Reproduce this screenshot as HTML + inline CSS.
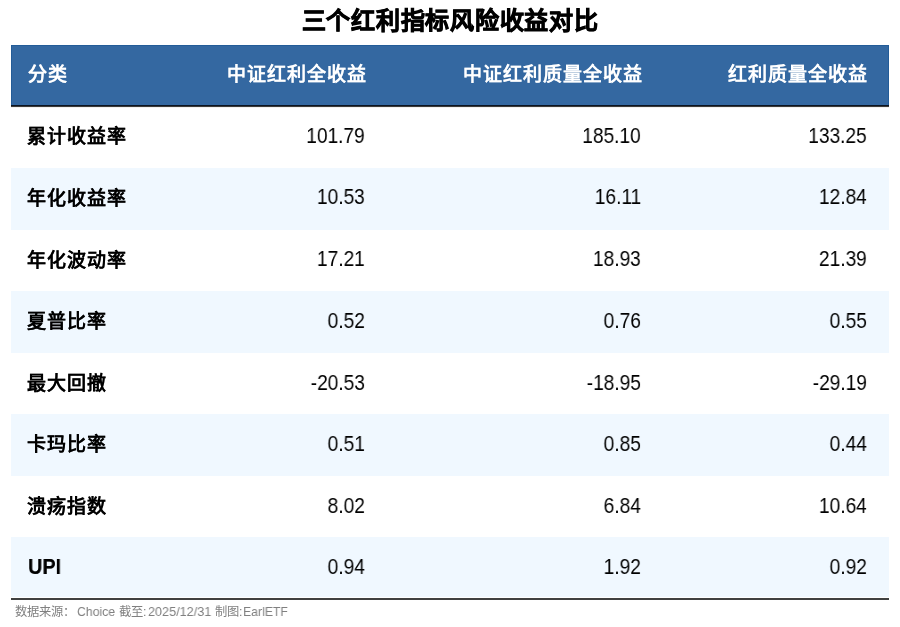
<!DOCTYPE html>
<html lang="zh-CN">
<head>
<meta charset="utf-8">
<style>
html,body{margin:0;padding:0;background:#fff;}
body{width:900px;height:627px;position:relative;overflow:hidden;font-family:"Liberation Sans",sans-serif;color:#000;}
.title,.t,.ft{will-change:transform;}
.title{position:absolute;left:0;width:900px;top:6px;text-align:center;font-size:24px;font-weight:bold;line-height:30px;letter-spacing:0.75px;-webkit-text-stroke:0.8px #000;}
.hd{position:absolute;left:11px;top:45px;width:876px;height:59px;background:#3468a1;border:1px solid #235c98;border-bottom:none;}
.hl{position:absolute;left:11px;top:105px;width:878px;height:3px;background:linear-gradient(#0a1422 0,#0a1422 1px,#3c3a38 1px,#3c3a38 2px,#f2f1f0 2px);}
.band{position:absolute;left:11px;width:878px;background:#f0f8ff;}
.t{position:absolute;white-space:nowrap;line-height:24px;}
.h{color:#fff;font-weight:bold;font-size:19px;letter-spacing:0.95px;text-shadow:0.2px 0 0 rgba(255,255,255,0.5);}
.l{left:26.5px;text-shadow:0.2px 0 0 rgba(0,0,0,0.6);font-weight:bold;font-size:19px;letter-spacing:0.95px;margin-top:0.5px;}
.n{font-size:21.5px;transform:scaleX(0.89);transform-origin:100% 50%;}
.c1{right:535px;}
.c2{right:259px;}
.c3{right:33px;}
.bl{position:absolute;left:11px;top:598px;width:878px;height:2px;background:#404040;}
.ft{position:absolute;top:604px;font-size:12.3px;color:#808080;line-height:16px;white-space:nowrap;}
.fl{font-size:13.6px;transform:scaleX(0.9);transform-origin:0 50%;}
</style>
</head>
<body>
<div class="title">三个红利指标风险收益对比</div>
<div class="hd"></div>
<div class="hl"></div>
<div class="band" style="top:168px;height:62px"></div>
<div class="band" style="top:291px;height:62px"></div>
<div class="band" style="top:414px;height:62px"></div>
<div class="band" style="top:537px;height:60px"></div>
<span class="t h" style="left:27.5px;top:63px">分类</span><span class="t h c1" style="top:63px;right:533px">中证红利全收益</span><span class="t h c2" style="top:63px;right:257px">中证红利质量全收益</span><span class="t h c3" style="top:63px;right:32px">红利质量全收益</span>
<span class="t l" style="top:124px">累计收益率</span><span class="t n c1" style="top:124px">101.79</span><span class="t n c2" style="top:124px">185.10</span><span class="t n c3" style="top:124px">133.25</span>
<span class="t l" style="top:186px">年化收益率</span><span class="t n c1" style="top:185px">10.53</span><span class="t n c2" style="top:185px">16.11</span><span class="t n c3" style="top:185px">12.84</span>
<span class="t l" style="top:248px">年化波动率</span><span class="t n c1" style="top:247px">17.21</span><span class="t n c2" style="top:247px">18.93</span><span class="t n c3" style="top:247px">21.39</span>
<span class="t l" style="top:309px">夏普比率</span><span class="t n c1" style="top:309px">0.52</span><span class="t n c2" style="top:309px">0.76</span><span class="t n c3" style="top:309px">0.55</span>
<span class="t l" style="top:371px">最大回撤</span><span class="t n c1" style="top:371px">-20.53</span><span class="t n c2" style="top:371px">-18.95</span><span class="t n c3" style="top:371px">-29.19</span>
<span class="t l" style="top:432px">卡玛比率</span><span class="t n c1" style="top:432px">0.51</span><span class="t n c2" style="top:432px">0.85</span><span class="t n c3" style="top:432px">0.44</span>
<span class="t l" style="top:494px">溃疡指数</span><span class="t n c1" style="top:494px">8.02</span><span class="t n c2" style="top:494px">6.84</span><span class="t n c3" style="top:494px">10.64</span>
<span class="t l" style="top:554px;font-size:22px;letter-spacing:0;left:27.5px;transform:scaleX(0.9);transform-origin:0 50%">UPI</span><span class="t n c1" style="top:555px">0.94</span><span class="t n c2" style="top:555px">1.92</span><span class="t n c3" style="top:555px">0.92</span>
<div class="bl"></div>
<div class="ft" style="left:14.5px">数据来源<span style="margin-left:0px">：</span></div><div class="ft fl" style="left:77px">Choice</div><div class="ft" style="left:119px">截至:</div><div class="ft fl" style="left:148px;transform:scaleX(0.93)">2025/12/31</div><div class="ft" style="left:215px">制图:</div><div class="ft fl" style="left:243px">EarlETF</div>
</body>
</html>
